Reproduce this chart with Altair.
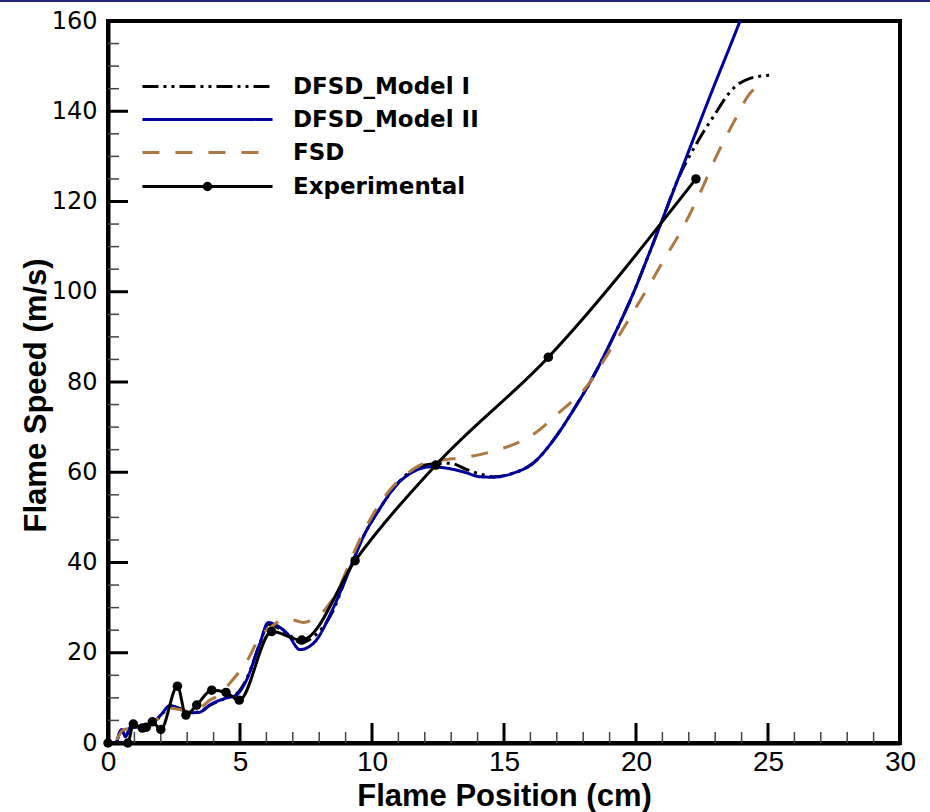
import altair as alt
import pandas as pd

# ---------------- data ----------------
exp_x = [0.0, 0.75, 0.96, 1.3, 1.45, 1.68, 2.0, 2.63, 2.95, 3.36, 3.93, 4.47, 4.97,
         6.2, 7.34, 9.36, 12.42, 16.68, 22.27]
exp_y = [0.0, 0.0, 4.2, 3.3, 3.5, 4.7, 3.0, 12.6, 6.2, 8.4, 11.7, 11.2, 9.5,
         24.7, 22.8, 40.4, 61.6, 85.5, 125.0]

m2_x = [0.34, 0.52, 0.66, 0.85, 1.1, 1.4, 1.7, 2.0, 2.35, 2.75, 3.1, 3.45, 3.9, 4.5,
        4.85, 5.25, 5.75, 6.07, 6.4, 6.8, 7.27, 7.8, 8.5, 9.04, 9.67, 10.3, 10.93,
        11.56, 12.2, 12.83, 13.46, 14.1, 14.6, 15.35, 16.1, 16.87, 17.63, 18.38,
        19.14, 19.9, 20.5, 21.0, 21.67, 22.8, 23.94, 24.3]
m2_y = [0.4, 3.0, 1.4, 3.5, 3.5, 3.8, 4.5, 6.2, 8.3, 7.5, 6.7, 6.8, 8.6, 10.0,
        10.6, 14.0, 22.0, 26.7, 26.0, 24.2, 20.7, 22.2, 29.5, 36.9, 45.7, 52.0, 57.2,
        60.1, 61.2, 60.9, 60.1, 59.0, 58.9, 59.8, 62.0, 67.1, 73.8, 81.2,
        90.0, 99.7, 108.5, 116.0, 126.2, 143.3, 160.0, 165.5]

m1_x = [0.34, 0.52, 0.66, 0.85, 1.1, 1.4, 1.7, 2.0, 2.35, 2.75, 3.1, 3.45, 3.9, 4.5,
        4.85, 5.25, 5.75, 6.07, 6.45, 6.9, 7.3, 7.8, 8.5, 9.04, 9.67, 10.3, 10.93,
        11.36, 12.2, 12.95, 13.59, 14.1, 14.6, 15.35, 16.1, 16.87, 17.63, 18.38,
        19.14, 19.9, 20.5, 21.0, 21.52, 22.3, 22.93, 23.69, 24.32, 25.08]
m1_y = [0.4, 2.8, 1.5, 3.4, 3.4, 3.8, 4.4, 6.0, 8.2, 7.6, 6.8, 6.9, 8.5, 10.0,
        10.8, 14.2, 22.0, 26.3, 25.5, 23.8, 22.2, 23.6, 29.0, 36.9, 45.7, 52.0, 57.2,
        59.8, 61.8, 62.0, 60.6, 59.6, 59.0, 59.8, 62.0, 67.1, 73.8, 81.2,
        90.0, 99.7, 108.5, 116.0, 124.0, 132.9, 138.8, 145.1, 147.3, 148.0]

fsd_x = [0.33, 0.58, 0.9, 1.3, 1.7, 2.0, 2.35, 2.79, 3.1, 3.5, 3.86, 4.12, 4.75,
         5.25, 5.76, 6.26, 6.64, 7.0, 7.4, 7.8, 8.22, 8.72, 9.04, 9.36, 9.92, 10.68,
         11.3, 11.82, 12.32, 13.2, 13.59, 14.72, 15.98, 17.12, 18.13, 18.95, 19.71,
         20.4, 21.1, 21.73, 22.42, 23.1, 23.75, 24.32, 24.45]
fsd_y = [0.7, 2.9, 3.3, 3.6, 4.5, 6.0, 7.7, 7.3, 6.9, 7.8, 9.5, 10.3, 14.2,
         18.0, 23.6, 26.1, 27.4, 27.3, 26.7, 27.5, 29.6, 34.0, 38.3, 42.8, 49.4, 56.1,
         59.5, 61.6, 62.3, 63.1, 63.4, 64.9, 67.9, 73.4, 79.0, 86.4, 93.7,
         100.4, 107.5, 113.7, 121.8, 130.7, 138.1, 144.0, 144.8]

series_names = ["DFSD_Model I", "DFSD_Model II", "FSD"]
exp_name = "Experimental"

x_labels = [0, 5, 10, 15, 20, 25, 30]
y_labels = [0, 20, 40, 60, 80, 100, 120, 140, 160]
x_major = [5, 10, 15, 20, 25]
x_minor = [1, 2, 3, 4, 6, 7, 8, 9, 11, 12, 13, 14, 16, 17, 18, 19, 21, 22, 23, 24,
           26, 27, 28, 29]
y_major = [20, 40, 60, 80, 100, 120, 140]
y_minor = [5, 10, 15, 25, 30, 35, 45, 50, 55, 65, 70, 75, 85, 90, 95, 105, 110, 115,
           125, 130, 135, 145, 150, 155]

# ---------------- tables ----------------
models = pd.concat([
    pd.DataFrame({"x": m1_x, "y": m1_y, "series": series_names[0]}),
    pd.DataFrame({"x": m2_x, "y": m2_y, "series": series_names[1]}),
    pd.DataFrame({"x": fsd_x, "y": fsd_y, "series": series_names[2]}),
], ignore_index=True)
exp_df = pd.DataFrame({"x": exp_x, "y": exp_y, "src": exp_name})

# ---------------- styles ----------------
W, H = 792, 722
SANS = "Liberation Sans"
colors = ["#000000", "#00009c", "#ad7842"]
dashes = [[16, 5, 3, 5, 3, 5], [1, 0], [17, 16]]

xscale = alt.Scale(domain=[0, 30], nice=False, zero=False)
yscale = alt.Scale(domain=[0, 160], nice=False, zero=False)

x_axis = alt.Axis(values=x_labels, ticks=False, tickSize=0, grid=False,
                  domainColor="black", domainWidth=4,
                  labelFont=SANS, labelFontSize=28, labelColor="black",
                  labelBaseline="alphabetic", labelPadding=27,
                  labelFlush=False, labelOverlap=False,
                  title="Flame Position (cm)", titleFont=SANS, titleFontSize=31,
                  titleFontWeight="bold", titleColor="black",
                  titleBaseline="alphabetic", titleY=62, titleX=W / 2)
y_axis = alt.Axis(values=y_labels, ticks=False, tickSize=0, grid=False,
                  domainColor="black", domainWidth=4,
                  labelFont="DejaVu Sans", labelFontSize=24,
                  labelColor="black", labelPadding=11, labelFlush=False,
                  labelOverlap=False, title="Flame Speed (m/s)", titleFont=SANS,
                  titleFontSize=31, titleFontWeight="bold", titleColor="black",
                  titleAngle=270, titleBaseline="alphabetic", titleAlign="center",
                  titleX=-63, titleY=374)

legend_common = dict(title=None, orient="none", padding=0, symbolSize=470,
                     symbolStrokeWidth=3, labelFont="DejaVu Sans", labelFontSize=23,
                     labelFontWeight="bold", labelColor="black", labelOffset=73,
                     labelLimit=500, rowPadding=8)
leg_models = alt.Legend(legendX=87, legendY=53, symbolType="M-6,0L6,0",
                        **legend_common)
leg_exp = alt.Legend(legendX=87, legendY=153, symbolFillColor="black",
                     symbolType="M-6,0L6,0M-0.3,0A0.3,0.3 0 1 0 0.3,0A0.3,0.3 0 1 0 -0.3,0Z",
                     **legend_common)

X = lambda f: alt.X(f, scale=xscale, axis=x_axis)
Y = lambda f: alt.Y(f, scale=yscale, axis=y_axis)

# ---------------- layers ----------------
def xticks(vals, length, width, color):
    return alt.Chart(pd.DataFrame({"v": vals})).mark_rule(
        strokeWidth=width, color=color).encode(
        x=X("v:Q"), y=alt.value(H), y2=alt.value(H - length))

def yticks(vals, length, width, color):
    return alt.Chart(pd.DataFrame({"v": vals})).mark_rule(
        strokeWidth=width, color=color).encode(
        y=Y("v:Q"), x=alt.value(0), x2=alt.value(length))

model_lines = alt.Chart(models).mark_line(
    interpolate="monotone", strokeWidth=3, clip=True).encode(
    x=X("x:Q"),
    y=Y("y:Q"),
    color=alt.Color("series:N", scale=alt.Scale(domain=series_names, range=colors),
                    legend=leg_models),
    strokeDash=alt.StrokeDash("series:N",
                              scale=alt.Scale(domain=series_names, range=dashes),
                              legend=leg_models),
    order="x:Q",
)

ticks = alt.layer(
    xticks(x_minor, 11, 1.5, "#444444"),
    xticks(x_major, 20, 3, "black"),
    yticks(y_minor, 11, 1.5, "#444444"),
    yticks(y_major, 20, 3, "black"),
)

top_band = alt.Chart(pd.DataFrame({"v": [0]})).mark_rule(
    color="#26267a", strokeWidth=2).encode(
    x=alt.value(-108), x2=alt.value(W + 30), y=alt.value(-20))

exp_line = alt.Chart(exp_df).mark_line(
    interpolate="monotone", strokeWidth=3).encode(
    x=X("x:Q"),
    y=Y("y:Q"),
    color=alt.Color("src:N", scale=alt.Scale(domain=[exp_name], range=["black"]),
                    legend=leg_exp),
    order="x:Q",
)

exp_pts = alt.Chart(exp_df).mark_circle(size=90, opacity=1, color="black").encode(
    x=X("x:Q"),
    y=Y("y:Q"),
)

chart = alt.layer(
    ticks, top_band, model_lines, exp_line, exp_pts
).resolve_scale(
    color="independent", strokeDash="independent"
).properties(
    width=W, height=H,
    autosize=alt.AutoSizeParams(type="none"),
    padding={"left": 108, "top": 21, "right": 30, "bottom": 69},
).configure(
    background="white"
).configure_view(
    stroke="black", strokeWidth=4
)

chart.save("out.html", embed_options={"renderer": "svg", "actions": False})
